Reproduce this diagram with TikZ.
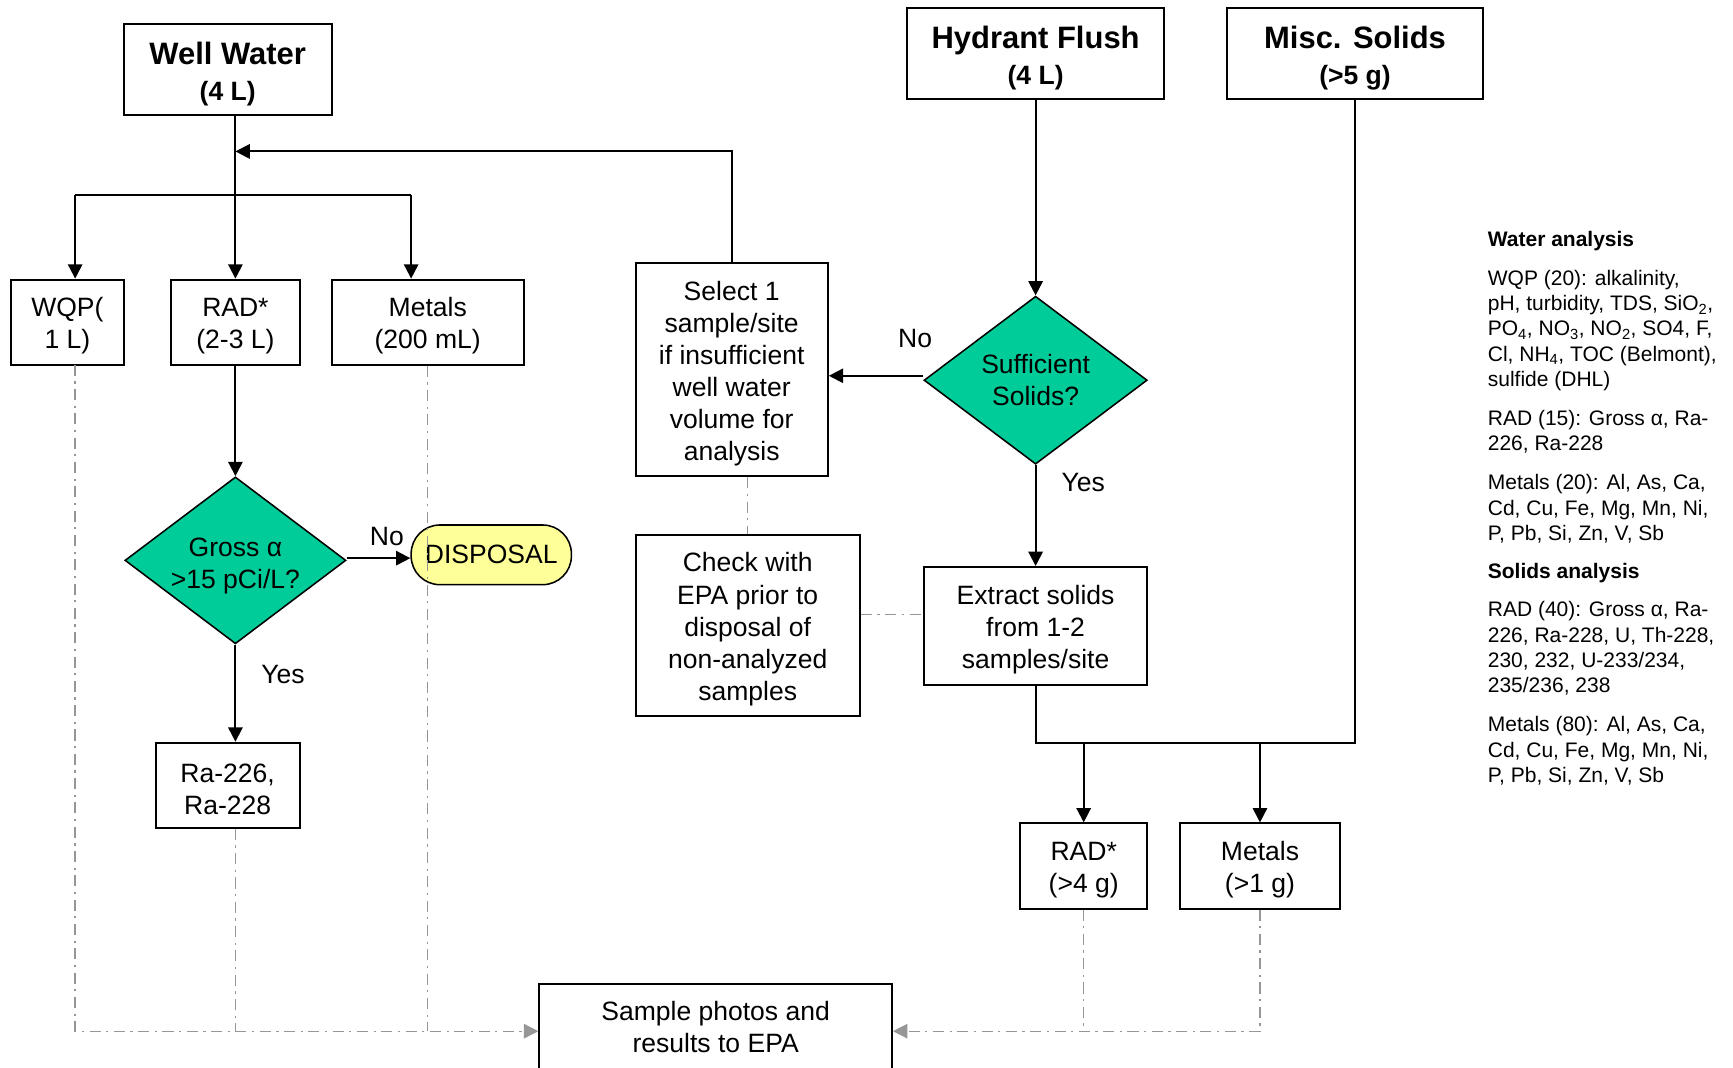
\documentclass[tikz,border=0pt]{standalone}
\usepackage{fontspec}
\setmainfont{Liberation Sans}
\usetikzlibrary{shapes.geometric,arrows.meta}
\definecolor{tealfill}{RGB}{0,204,153}
\definecolor{yelfill}{RGB}{255,255,153}
\definecolor{dgray}{RGB}{150,150,150}
\newcommand{\tstrut}{\rule{0pt}{24pt}}
\newcommand{\ttstrut}{\rule{0pt}{28.5pt}}
\newcommand{\dstrut}{\rule{0pt}{27pt}}
\begin{document}
\begin{tikzpicture}[x=1pt,y=-1pt,
  box/.style={draw,line width=1.8pt,fill=white,inner sep=0pt,align=center,font=\fontsize{24}{29}\selectfont},
  titlebox/.style={draw,line width=1.8pt,fill=white,inner sep=0pt,align=center,font=\fontsize{24}{32}\selectfont\bfseries},
  decision/.style={diamond,draw,line width=1.4pt,fill=tealfill,inner sep=0pt,aspect=1.32,align=center,font=\fontsize{24}{29}\selectfont},
  term/.style={draw,line width=1.4pt,fill=yelfill,rounded corners=26pt,inner sep=0pt,align=center,font=\fontsize{24}{29}\selectfont},
  txt/.style={inner sep=0pt,align=center,font=\fontsize{24}{29}\selectfont},
  arr/.style={line width=1.8pt,-{Triangle[length=13pt,width=13pt]}},
  plain/.style={line width=1.8pt},
  dd/.style={draw=dgray,line width=1.2pt,dash pattern=on 10pt off 5pt on 2pt off 5pt},
  ddarr/.style={dd,-{Triangle[length=13pt,width=13pt,color=dgray,fill=dgray]}},
  legend/.style={inner sep=0pt,align=left,font=\fontsize{19}{23}\selectfont}
]
\fill[white] (0,0) rectangle (1568,966);
\path[use as bounding box] (0,0) rectangle (1568,966);
\clip (0,0) rectangle (1568,966);

% junction coordinates
\coordinate (ybot) at (0,933);
\coordinate (fb) at (213,137);
\coordinate (ysol) at (0,672);
\coordinate (bl) at (68,176);
\coordinate (br) at (372,176);
\coordinate (wqpd) at (68,330);

% left column
\node[titlebox,minimum width=188pt,minimum height=82pt] (well) at (206,63)
  {{\fontsize{28}{32}\selectfont\bfseries\ttstrut Well Water}\\(4 L)};
\node[box,minimum width=102pt,minimum height=77pt] (wqp) at (61,291.5) {\tstrut WQP(\\1 L)};
\node[box,minimum width=116pt,minimum height=77pt] (rad) at (213,291.5) {\tstrut RAD*\\(2-3 L)};
\node[box,minimum width=174pt,minimum height=77pt] (metals) at (387,291.5) {\tstrut Metals\\(200 mL)};
\node[decision,minimum width=200pt,minimum height=151pt] (gross) at (213,507) {\dstrut Gross α\\>15 pCi/L?};
\node[term,minimum width=145pt,minimum height=54pt] (disposal) at (444.5,502) {DISPOSAL};
\node[box,minimum width=130pt,minimum height=77pt] (ra) at (206,710.5) {\tstrut Ra-226,\\Ra-228};
\node[box,minimum width=319pt,minimum height=130pt,anchor=north] (sample) at (647.5,889) {};
\node[txt] (sampletxt) at (647.5,929) {Sample photos and\\results to EPA};

% middle / right
\node[box,minimum width=174pt,minimum height=193pt] (select) at (662,334.5)
  {\tstrut Select 1\\sample/site\\if insufficient\\well water\\volume for\\analysis};
\node[box,minimum width=203pt,minimum height=164pt] (check) at (676.5,566)
  {\tstrut Check with\\EPA prior to\\disposal of\\non-analyzed\\samples};
\node[titlebox,minimum width=232pt,minimum height=83pt] (hydrant) at (937,48.5)
  {{\fontsize{28}{32}\selectfont\bfseries\ttstrut Hydrant Flush}\\(4 L)};
\node[titlebox,minimum width=232pt,minimum height=83pt] (misc) at (1226,48.5)
  {{\fontsize{28}{32}\selectfont\bfseries\ttstrut Misc. Solids}\\(>5 g)};
\node[decision,minimum width=202pt,minimum height=152pt] (suff) at (937,344) {Sufficient\\Solids?};
\node[box,minimum width=202pt,minimum height=107pt] (extract) at (937,566.5)
  {\tstrut Extract solids\\from 1-2\\samples/site};
\node[box,minimum width=115pt,minimum height=77pt] (rad2) at (980.5,783.5) {\tstrut RAD*\\(>4 g)};
\node[box,minimum width=144pt,minimum height=77pt] (met2) at (1140,783.5) {\tstrut Metals\\(>1 g)};

% labels
\node[txt] (no1) at (350,485) {No};
\node[txt] (yes1) at (256,610) {Yes};
\node[txt] (no2) at (828,306) {No};
\node[txt] (yes2) at (980,437) {Yes};

% legend
\node[legend,anchor=north west] (legendtxt) at (1346,209) {%
{\bfseries Water analysis}\\[12pt]
WQP (20): alkalinity,\\
pH, turbidity, TDS, SiO\textsubscript{2},\\
PO\textsubscript{4}, NO\textsubscript{3}, NO\textsubscript{2}, SO4, F,\\
Cl, NH\textsubscript{4}, TOC (Belmont),\\
sulfide (DHL)\\[12pt]
RAD (15): Gross α, Ra-\\
226, Ra-228\\[12pt]
Metals (20): Al, As, Ca,\\
Cd, Cu, Fe, Mg, Mn, Ni,\\
P, Pb, Si, Zn, V, Sb\\[11pt]
{\bfseries Solids analysis}\\[12pt]
RAD (40): Gross α, Ra-\\
226, Ra-228, U, Th-228,\\
230, 232, U-233/234,\\
235/236, 238\\[12pt]
Metals (80): Al, As, Ca,\\
Cd, Cu, Fe, Mg, Mn, Ni,\\
P, Pb, Si, Zn, V, Sb};

% well water connectors
\draw[arr] (well.south -| rad.north) -- (rad.north);
\draw[plain] (bl) -- (br);
\draw[arr] (bl) -- (bl |- wqp.north);
\draw[arr] (br) -- (br |- metals.north);
\draw[arr] (select.north) |- (fb);
\draw[arr] (rad.south) -- (gross.north);
\draw[arr] ([yshift=2pt]gross.east) -- ([yshift=2pt]gross.east -| disposal.west);
\draw[arr] (gross.south) -- (gross.south |- ra.north);

% hydrant / solids connectors
\draw[arr] (hydrant.south) -- (suff.north);
\draw[arr] ([yshift=4pt]suff.west) -- ([yshift=4pt]suff.west -| select.east);
\draw[arr] (suff.south) -- (extract.north);
\draw[plain] (extract.south) -- (extract.south |- ysol) -- (misc.south |- ysol) -- (misc.south);
\draw[arr] (rad2.north |- ysol) -- (rad2.north);
\draw[arr] (met2.north |- ysol) -- (met2.north);

% dash-dot connectors
\draw[dd] (select.south -| check.north) -- (check.north);
\draw[dd] ([yshift=10pt]check.east) -- ([yshift=10pt]check.east -| extract.west);
\draw[dd] (metals.south) -- (metals.south |- ybot);
\draw[dd] (gross.south |- ra.south) -- (gross.south |- ybot);
\draw[ddarr] (wqpd) -- (wqpd |- ybot) -- (sample.west |- ybot);
\draw[dd] (rad2.south) -- (rad2.south |- ybot);
\draw[ddarr] (met2.south) -- (met2.south |- ybot) -- (sample.east |- ybot);
\end{tikzpicture}
\end{document}
